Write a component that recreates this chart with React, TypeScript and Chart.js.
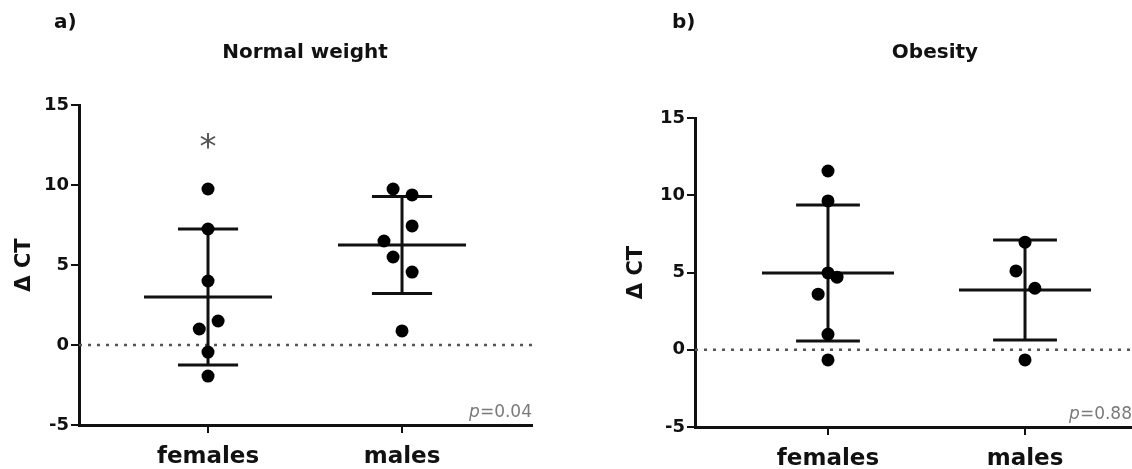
import React, { useEffect, useRef } from "react";
import { Chart, registerables } from "chart.js";

Chart.register(...registerables);

// ---------- data ----------
const categories = ["females", "males"];
const yTicks = [-5, 0, 5, 10, 15];

// a) Normal weight
const normalFemales = [9.75, 7.25, 4.0, 1.5, 1.0, -0.44, -1.94];
const normalFemalesJitter = [0, 0, 0, 0.052, -0.045, 0, 0];
const normalMales = [9.75, 9.38, 7.44, 6.5, 5.5, 4.56, 0.88];
const normalMalesJitter = [-0.046, 0.052, 0.052, -0.093, -0.046, 0.052, 0];
const normalMeans = [3.0, 6.25];
const normalSD = [4.25, 3.03];
const normalStar = [12.75, null];
const normalP = "0.04";

// b) Obesity
const obeseFemales = [11.57, 9.63, 4.97, 4.7, 3.6, 1.0, -0.66];
const obeseFemalesJitter = [0, 0, 0, 0.046, -0.05, 0, 0];
const obeseMales = [6.96, 5.1, 3.98, -0.66];
const obeseMalesJitter = [0, -0.046, 0.05, 0];
const obeseMeans = [4.97, 3.87];
const obeseSD = [4.4, 3.24];
const obeseStar = [null, null];
const obeseP = "0.88";

// ---------- layout / style ----------
const W = 566;
const H = 469;
const FONT = "'DejaVu Sans', 'Liberation Sans', Arial, sans-serif";
const INK = "#111";

type PanelCfg = {
  letter: string;
  letterX: number;
  title: string;
  titleAt: number;
  groups: number[][];
  jitters: number[][];
  means: number[];
  sds: number[];
  stars: (number | null)[];
  p: string;
  left: number;
  right: number;
  top: number;
  bottom: number;
  xMin: number;
  xMax: number;
  yTitlePad: number;
  meanHalf: number;
  capHalf: number;
};

const panels: PanelCfg[] = [
  {
    letter: "a)",
    letterX: 54,
    title: "Normal weight",
    titleAt: 1.5,
    groups: [normalFemales, normalMales],
    jitters: [normalFemalesJitter, normalMalesJitter],
    means: normalMeans,
    sds: normalSD,
    stars: normalStar,
    p: normalP,
    left: 79,
    right: 532,
    top: 105,
    bottom: 425,
    xMin: 0.335,
    xMax: 2.67,
    yTitlePad: 12,
    meanHalf: 0.33,
    capHalf: 0.155,
  },
  {
    letter: "b)",
    letterX: 106,
    title: "Obesity",
    titleAt: 1.543,
    groups: [obeseFemales, obeseMales],
    jitters: [obeseFemalesJitter, obeseMalesJitter],
    means: obeseMeans,
    sds: obeseSD,
    stars: obeseStar,
    p: obeseP,
    left: 129,
    right: 566,
    top: 118,
    bottom: 427,
    xMin: 0.325,
    xMax: 2.543,
    yTitlePad: 58,
    meanHalf: 0.335,
    capHalf: 0.162,
  },
];

const annotPlugin = {
  id: "annot",
  afterDatasetsDraw(chart: any, _args: any, opts: any) {
    const ctx = chart.ctx as CanvasRenderingContext2D;
    const xs = chart.scales.x;
    const ys = chart.scales.y;
    const ca = chart.chartArea;
    ctx.save();
    // panel letter
    ctx.fillStyle = INK;
    ctx.font = `bold 20px ${FONT}`;
    ctx.textAlign = "left";
    ctx.textBaseline = "alphabetic";
    ctx.fillText(opts.letter, opts.letterX, 28);
    // title
    ctx.textAlign = "center";
    ctx.font = `bold 20px ${FONT}`;
    ctx.fillText(opts.title, xs.getPixelForValue(opts.titleAt), 58);
    // significance stars
    ctx.fillStyle = "#555";
    ctx.font = `34px ${FONT}`;
    (opts.stars as (number | null)[]).forEach((v, i) => {
      if (v == null) return;
      const m = ctx.measureText("*");
      const cy = ys.getPixelForValue(v);
      const base = cy + (m.actualBoundingBoxAscent - m.actualBoundingBoxDescent) / 2;
      ctx.textAlign = "center";
      ctx.fillText("*", xs.getPixelForValue(i + 1), base);
    });
    // p-value
    ctx.fillStyle = "#7a7a7a";
    ctx.font = `17px ${FONT}`;
    const rest = "=" + opts.p;
    const wRest = ctx.measureText(rest).width;
    ctx.textAlign = "right";
    ctx.fillText(rest, ca.right, ca.bottom - 8);
    ctx.font = `italic 17px ${FONT}`;
    ctx.fillText("p", ca.right - wRest, ca.bottom - 8);
    ctx.restore();
  },
};

function buildConfig(p: PanelCfg): any {
  const datasets: any[] = [];
  const lineStyle = {
    type: "line",
    borderColor: INK,
    borderWidth: 3,
    pointRadius: 0,
    fill: false,
    tension: 0,
    order: 2,
  };
  // zero reference line
  datasets.push({
    type: "line",
    data: [
      { x: p.xMin, y: 0 },
      { x: p.xMax, y: 0 },
    ],
    borderColor: "#555",
    borderWidth: 2.5,
    borderDash: [3, 6],
    pointRadius: 0,
    order: 3,
  });
  p.means.forEach((m, i) => {
    const c = i + 1;
    const sd = p.sds[i];
    datasets.push({ ...lineStyle, data: [{ x: c - p.meanHalf, y: m }, { x: c + p.meanHalf, y: m }] });
    datasets.push({ ...lineStyle, data: [{ x: c, y: m - sd }, { x: c, y: m + sd }] });
    datasets.push({ ...lineStyle, data: [{ x: c - p.capHalf, y: m + sd }, { x: c + p.capHalf, y: m + sd }] });
    datasets.push({ ...lineStyle, data: [{ x: c - p.capHalf, y: m - sd }, { x: c + p.capHalf, y: m - sd }] });
  });
  p.groups.forEach((vals, i) => {
    datasets.push({
      type: "scatter",
      data: vals.map((v, k) => ({ x: i + 1 + p.jitters[i][k], y: v })),
      backgroundColor: "#000",
      borderWidth: 0,
      pointRadius: 6.5,
      pointHoverRadius: 6.5,
      showLine: false,
      order: 1,
    });
  });

  const gridStyle = {
    display: true,
    drawOnChartArea: false,
    drawTicks: true,
    tickLength: 8,
    color: INK,
    lineWidth: 2,
  };
  const borderStyle = { display: true, width: 3, color: INK };

  return {
    type: "scatter",
    data: { datasets },
    plugins: [annotPlugin],
    options: {
      animation: false,
      responsive: false,
      devicePixelRatio: 1,
      events: [],
      layout: {
        autoPadding: false,
        padding: { top: p.top, right: W - p.right, bottom: 0, left: 0 },
      },
      plugins: {
        legend: { display: false },
        title: { display: false },
        tooltip: { enabled: false },
        annot: {
          letter: p.letter,
          letterX: p.letterX,
          title: p.title,
          titleAt: p.titleAt,
          stars: p.stars,
          p: p.p,
        },
      },
      scales: {
        x: {
          type: "linear",
          min: p.xMin,
          max: p.xMax,
          afterBuildTicks: (s: any) => {
            s.ticks = categories.map((_, i) => ({ value: i + 1 }));
          },
          afterFit: (s: any) => {
            s.height = H - p.bottom;
            s.paddingLeft = 0;
            s.paddingRight = 0;
          },
          ticks: {
            autoSkip: false,
            maxRotation: 0,
            padding: 10,
            color: INK,
            font: { family: FONT, weight: "bold", size: 23 },
            callback: (v: any) => categories[Math.round(Number(v)) - 1] ?? "",
          },
          grid: gridStyle,
          border: borderStyle,
        },
        y: {
          type: "linear",
          min: -5,
          max: 15,
          afterBuildTicks: (s: any) => {
            s.ticks = yTicks.map((v) => ({ value: v }));
          },
          afterFit: (s: any) => {
            s.width = p.left;
            s.paddingTop = 0;
            s.paddingBottom = 0;
          },
          ticks: {
            padding: 2,
            color: INK,
            font: { family: FONT, weight: "bold", size: 18 },
          },
          grid: gridStyle,
          border: borderStyle,
          title: {
            display: true,
            text: "Δ CT",
            color: INK,
            font: { family: FONT, weight: "bold", size: 21 },
            padding: { top: p.yTitlePad, bottom: 0 },
          },
        },
      },
    },
  };
}

function PanelChart({ cfg }: { cfg: PanelCfg }) {
  const ref = useRef<HTMLCanvasElement>(null);
  useEffect(() => {
    const chart = new Chart(ref.current as HTMLCanvasElement, buildConfig(cfg));
    return () => chart.destroy();
  }, [cfg]);
  return (
    <canvas
      ref={ref}
      width={W}
      height={H}
      style={{ display: "block", width: W, height: H }}
    />
  );
}

export default function App() {
  return (
    <div
      style={{
        position: "absolute",
        left: 0,
        top: 0,
        width: 2 * W,
        height: H,
        display: "flex",
        background: "#fff",
        overflow: "hidden",
      }}
    >
      {panels.map((p) => (
        <PanelChart key={p.letter} cfg={p} />
      ))}
    </div>
  );
}
